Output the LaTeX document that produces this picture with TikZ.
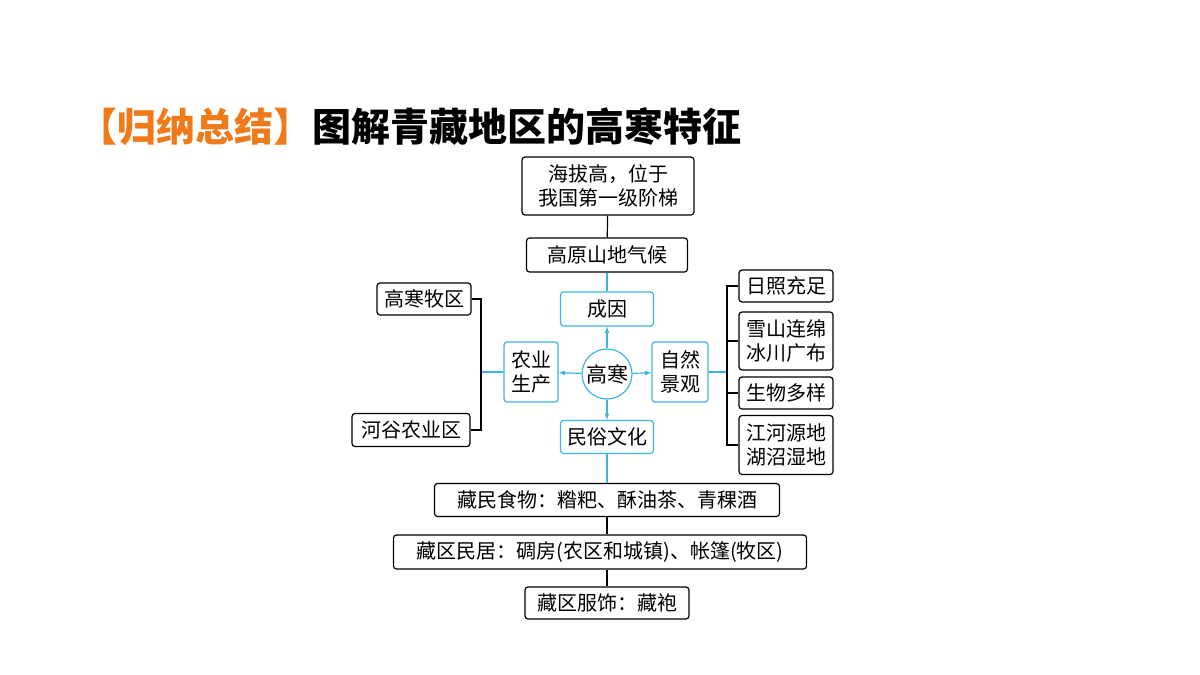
\documentclass[tikz,border=0pt]{standalone}
\usepackage{fontspec}
\setmainfont{Noto Sans CJK SC}
\definecolor{cyanline}{HTML}{3CB4E0}
\definecolor{titleorange}{HTML}{F07A1A}
\begin{document}
\begin{tikzpicture}[x=1pt, y=-1pt,
  box/.style={draw, rounded corners=3pt, line width=1.2pt, inner sep=2pt, align=center, font=\fontsize{20}{24}\selectfont},
  cbox/.style={box, draw=cyanline},
  link/.style={line width=1.2pt},
  clink/.style={line width=1.2pt, cyanline},
  carrow/.style={clink, -latex}]
\useasboundingbox (0,0) rectangle (1200,675);
\node[anchor=west, inner sep=0pt, font=\fontsize{39}{44}\selectfont\bfseries] (title) at (78,127)
  {\textcolor{titleorange}{【归纳总结】}图解青藏地区的高寒特征};

\node[box, minimum width=172pt, minimum height=58pt] (top) at (608,186) {海拔高，位于\\我国第一级阶梯};
\node[box, minimum width=161pt, minimum height=34pt] (climate) at (607,255) {高原山地气候};
\node[cbox, minimum width=93pt, minimum height=34pt] (cause) at (607,309) {成因};
\node[circle, draw=cyanline, line width=1.2pt, minimum size=50pt, inner sep=0pt, font=\fontsize{21}{24}\selectfont] (cold) at (607,374) {高寒};
\node[cbox, minimum width=54pt, minimum height=60pt] (agri) at (531,372) {农业\\生产};
\node[cbox, minimum width=56pt, minimum height=60pt] (nature) at (680,372) {自然\\景观};
\node[cbox, minimum width=93pt, minimum height=33pt] (custom) at (607,437) {民俗文化};

\node[box, minimum width=94pt, minimum height=32pt] (pasture) at (424,299) {高寒牧区};
\node[box, minimum width=118pt, minimum height=33pt] (valley) at (411,430) {河谷农业区};

\node[box, minimum width=94pt, minimum height=32pt] (sun) at (786,286) {日照充足};
\node[box, minimum width=94pt, minimum height=58pt] (snow) at (786,341) {雪山连绵\\冰川广布};
\node[box, minimum width=94pt, minimum height=32pt] (bio) at (786,393) {生物多样};
\node[box, minimum width=94pt, minimum height=59pt] (river) at (786,445) {江河源地\\湖沼湿地};

\node[box, minimum width=345pt, minimum height=33pt] (food) at (607,500) {藏民食物：糌粑、酥油茶、青稞酒};
\node[box, minimum width=413pt, minimum height=34pt] (house) at (600,552) {藏区民居：碉房(农区和城镇)、帐篷(牧区)};
\node[box, minimum width=164pt, minimum height=32pt] (dress) at (607,603) {藏区服饰：藏袍};

\coordinate (lbr) at (481,372);
\coordinate (rbr) at (727,372);

\draw[link] (top) -- (climate);
\draw[clink] (climate) -- (cause);
\draw[carrow] (cold) -- (cause);
\draw[carrow] (cold) -- (agri);
\draw[carrow] (cold) -- (nature);
\draw[carrow] (cold) -- (custom);
\draw[clink] (agri) -- (lbr);
\draw[link] (pasture.east) -| (lbr) |- (valley.east);
\draw[clink] (nature) -- (rbr);
\draw[link] (sun.west) -| (rbr) |- (river.west);
\draw[link] (snow.west) -- (snow.west -| rbr);
\draw[link] (bio.west) -- (bio.west -| rbr);
\draw[clink] (custom) -- (food);
\draw[link] (food.south -| custom) -- (house.north -| custom);
\draw[link] (house.south -| custom) -- (dress);
\end{tikzpicture}
\end{document}
